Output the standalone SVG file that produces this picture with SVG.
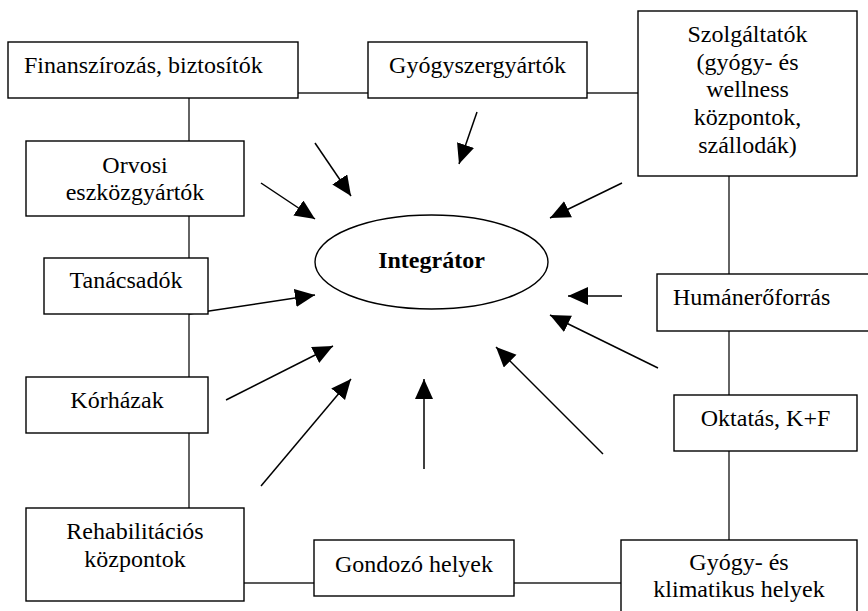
<svg xmlns="http://www.w3.org/2000/svg" width="868" height="611" viewBox="0 0 868 611">
<style>
.box{fill:#fff;stroke:#000;stroke-width:1.4}
.t{font-family:'Liberation Serif','DejaVu Serif',serif;font-size:24px;fill:#000}
.c{text-anchor:middle}
.b{font-weight:bold}
.ln{stroke:#222;stroke-width:1.4;fill:none}
.ar{stroke:#000;stroke-width:1.5;fill:none;marker-end:url(#ah)}
</style>
<defs>
<marker id="ah" markerUnits="userSpaceOnUse" markerWidth="22" markerHeight="20" refX="20" refY="9" orient="auto">
<path d="M0,0 L20,9 L0,18 z" fill="#000"/>
</marker>
</defs>
<rect width="868" height="611" fill="#fff"/>
<g id="connectors">
<line class="ln" x1="298" y1="93" x2="368" y2="93"/>
<line class="ln" x1="587" y1="93" x2="638" y2="93"/>
<line class="ln" x1="189" y1="98" x2="189" y2="141"/>
<line class="ln" x1="189" y1="216" x2="189" y2="258"/>
<line class="ln" x1="189" y1="314" x2="189" y2="377"/>
<line class="ln" x1="189" y1="433" x2="189" y2="508"/>
<line class="ln" x1="244" y1="583" x2="314" y2="583"/>
<line class="ln" x1="514" y1="583" x2="621" y2="583"/>
<line class="ln" x1="729" y1="176" x2="729" y2="274"/>
<line class="ln" x1="729" y1="331" x2="729" y2="395"/>
<line class="ln" x1="729" y1="451" x2="729" y2="540"/>
<line class="ar" x1="315" y1="143" x2="351" y2="196"/>
<line class="ar" x1="261" y1="183" x2="315" y2="219"/>
<line class="ar" x1="189" y1="314" x2="315" y2="295"/>
<line class="ar" x1="226" y1="400" x2="333" y2="346"/>
<line class="ar" x1="261" y1="486" x2="351" y2="379"/>
<line class="ar" x1="424" y1="469" x2="424" y2="379"/>
<line class="ar" x1="603" y1="454" x2="496" y2="347"/>
<line class="ar" x1="658" y1="368" x2="550" y2="315"/>
<line class="ar" x1="622" y1="296" x2="568" y2="296"/>
<line class="ar" x1="622" y1="183" x2="550" y2="218"/>
<line class="ar" x1="477" y1="112" x2="459" y2="164"/>
</g>
<g id="integrator">
<ellipse class="box" cx="431.5" cy="262" rx="116.5" ry="47"/>
<text class="t c b" x="431.5" y="268">Integrátor</text>
</g>
<g id="finanszirozas">
<rect class="box" x="8" y="42" width="290" height="56"/>
<text class="t" x="24" y="73">Finanszírozás, biztosítók</text>
</g>
<g id="gyogyszergyartok">
<rect class="box" x="368" y="42" width="219" height="56"/>
<text class="t c" x="477.5" y="73">Gyógyszergyártók</text>
</g>
<g id="szolgaltatok">
<rect class="box" x="638" y="11" width="219" height="165"/>
<text class="t c" x="747.5" y="42">Szolgáltatók</text>
<text class="t c" x="747.5" y="70">(gyógy- és</text>
<text class="t c" x="747.5" y="97">wellness</text>
<text class="t c" x="747.5" y="125">központok,</text>
<text class="t c" x="747.5" y="153">szállodák)</text>
</g>
<g id="orvosi">
<rect class="box" x="26" y="141" width="218" height="75"/>
<text class="t c" x="135" y="173">Orvosi</text>
<text class="t c" x="135" y="200">eszközgyártók</text>
</g>
<g id="tanacsadok">
<rect class="box" x="44" y="258" width="164" height="56"/>
<text class="t c" x="126" y="288">Tanácsadók</text>
</g>
<g id="korhazak">
<rect class="box" x="26" y="377" width="182" height="56"/>
<text class="t c" x="117" y="408">Kórházak</text>
</g>
<g id="rehabilitacios">
<rect class="box" x="26" y="508" width="218" height="93"/>
<text class="t c" x="135" y="539">Rehabilitációs</text>
<text class="t c" x="135" y="567">központok</text>
</g>
<g id="gondozo">
<rect class="box" x="314" y="540" width="200" height="56"/>
<text class="t c" x="414" y="572">Gondozó helyek</text>
</g>
<g id="humaneroforras">
<rect class="box" x="657" y="274" width="215" height="57"/>
<text class="t" x="673" y="305">Humánerőforrás</text>
</g>
<g id="oktatas">
<rect class="box" x="674" y="395" width="183" height="56"/>
<text class="t c" x="765.5" y="426">Oktatás, K+F</text>
</g>
<g id="gyogy-klimatikus">
<rect class="box" x="621" y="540" width="236" height="76"/>
<text class="t c" x="739" y="570">Gyógy- és</text>
<text class="t c" x="739" y="597">klimatikus helyek</text>
</g>
</svg>
